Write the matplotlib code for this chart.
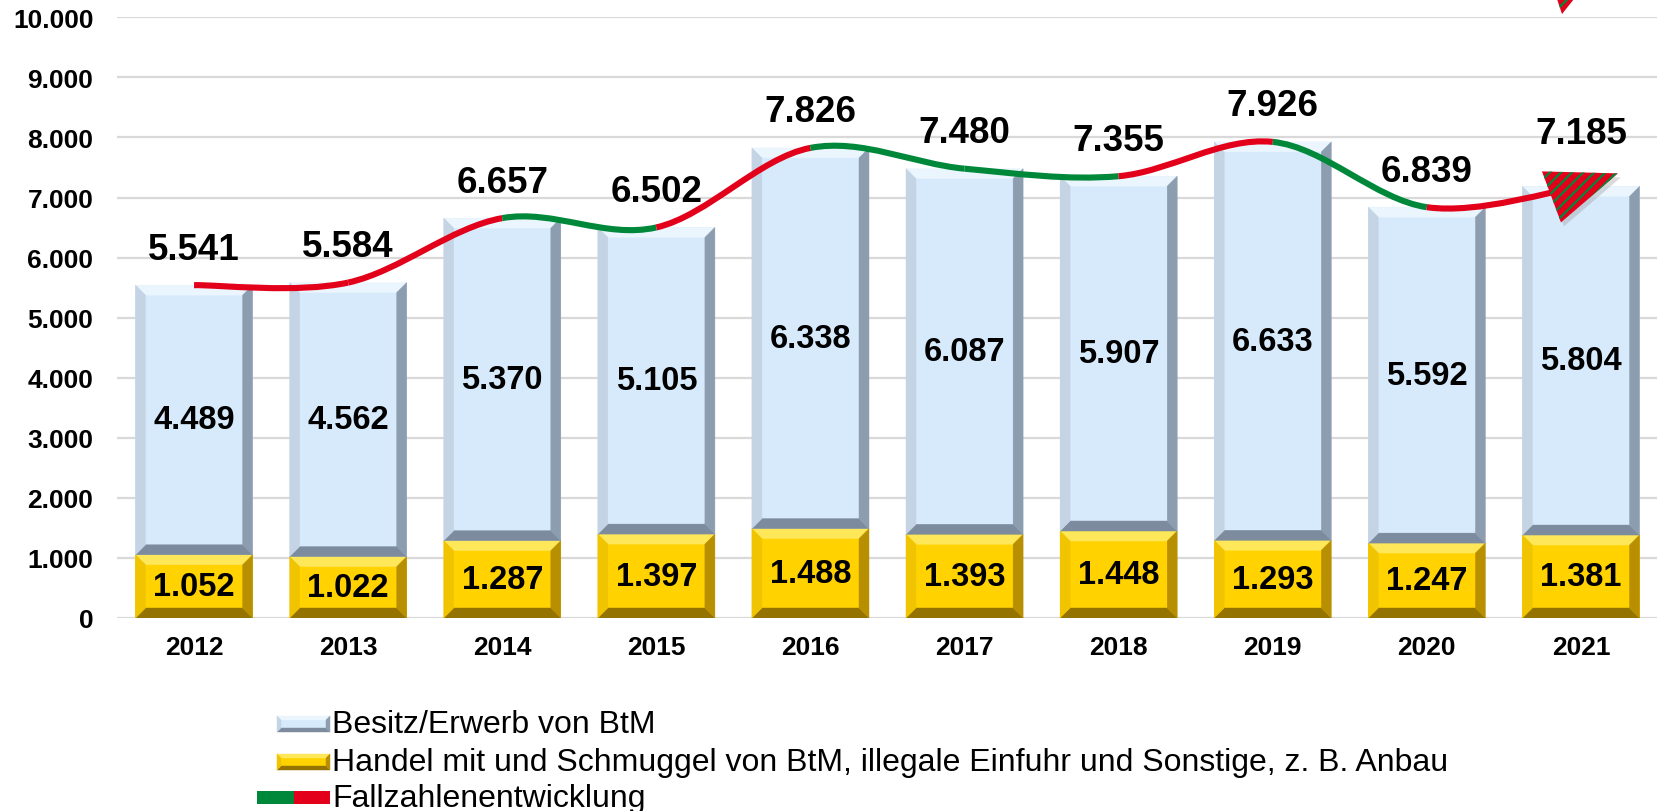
import matplotlib.pyplot as plt
from matplotlib.patches import Polygon, Rectangle, PathPatch
from matplotlib.path import Path
from matplotlib.ticker import FuncFormatter, MultipleLocator
from matplotlib.transforms import Affine2D, ScaledTranslation

plt.rcParams['font.family'] = ['Liberation Sans', 'DejaVu Sans']
plt.rcParams['hatch.linewidth'] = 1.6

years = ['2012', '2013', '2014', '2015', '2016', '2017', '2018', '2019', '2020', '2021']
besitz = [4489, 4562, 5370, 5105, 6338, 6087, 5907, 6633, 5592, 5804]
handel = [1052, 1022, 1287, 1397, 1488, 1393, 1448, 1293, 1247, 1381]
totals = [5541, 5584, 6657, 6502, 7826, 7480, 7355, 7926, 6839, 7185]
names = ['Besitz/Erwerb von BtM',
         'Handel mit und Schmuggel von BtM, illegale Einfuhr und Sonstige, z. B. Anbau',
         'Fallzahlenentwicklung']

blue = dict(face='#d6eafb', top='#eaf5fe', left='#c4d4e4', right='#8d9db0', bottom='#7c8c9e')
gold = dict(face='#ffd200', top='#ffe75a', left='#f0c400', right='#b88f00', bottom='#957300')
red = '#e3001b'
green = '#00883a'


def fmt(v):
    return f'{int(round(v)):,}'.replace(',', '.')


def bevel(add, x0, y0, x1, y1, bx, by, cols, transform, z=2):
    # flat face plus four bevel trapezoids
    add(Polygon([(x0, y0), (x1, y0), (x1, y1), (x0, y1)], closed=True,
                facecolor=cols['face'], edgecolor='none', transform=transform, zorder=z))
    sides = {
        'top': [(x0, y1), (x1, y1), (x1 - bx, y1 - by), (x0 + bx, y1 - by)],
        'bottom': [(x0, y0), (x1, y0), (x1 - bx, y0 + by), (x0 + bx, y0 + by)],
        'left': [(x0, y0), (x0, y1), (x0 + bx, y1 - by), (x0 + bx, y0 + by)],
        'right': [(x1, y0), (x1, y1), (x1 - bx, y1 - by), (x1 - bx, y0 + by)],
    }
    for k, pts in sides.items():
        add(Polygon(pts, closed=True, facecolor=cols[k], edgecolor=cols[k], lw=0.3,
                    transform=transform, zorder=z + 0.1))


W, H = 1658, 812
fig = plt.figure(figsize=(W / 100, H / 100), dpi=100)
ax = fig.add_axes([117 / W, 193 / H, 1 - 117 / W, 600.7 / H])
ax.set_xlim(-0.5, 9.5)
ax.set_ylim(0, 10000)

x = list(range(len(years)))
bw = 0.76
bars_h = ax.bar(x, handel, bw, color='none', zorder=2)
bars_b = ax.bar(x, besitz, bw, bottom=handel, color='none', zorder=2)

p0 = ax.transData.transform((0, 0))
p1 = ax.transData.transform((1, 10000))
ppx = p1[0] - p0[0]
ppy = (p1[1] - p0[1]) / 10000
bpx = 10
for cont, cols in ((bars_h, gold), (bars_b, blue)):
    for r in cont.patches:
        xa, ya = r.get_x(), r.get_y()
        bevel(ax.add_patch, xa, ya, xa + r.get_width(), ya + r.get_height(),
              bpx / ppx, bpx / ppy, cols, ax.transData)

# grid and axes styling
ax.yaxis.set_major_locator(MultipleLocator(1000))
ax.yaxis.set_major_formatter(FuncFormatter(lambda v, p: fmt(v)))
ax.grid(axis='y', color='#d9d9d9', lw=1.6, zorder=0)
ax.set_axisbelow(True)
for s in ax.spines.values():
    s.set_visible(False)
ax.set_xticks(x)
ax.set_xticklabels(years)
ax.tick_params(axis='both', length=0)
ax.tick_params(axis='y', labelsize=19, pad=17)
ax.tick_params(axis='x', labelsize=19, pad=12)
for lab in ax.get_xticklabels() + ax.get_yticklabels():
    lab.set_fontweight('bold')

# smoothed trend line, red when rising, green when falling
pts = list(zip(x, totals))
n = len(pts)
for i in range(n - 1):
    a = pts[max(i - 1, 0)]
    b = pts[i]
    c = pts[i + 1]
    d = pts[min(i + 2, n - 1)]
    c1 = (b[0] + (c[0] - a[0]) / 6, b[1] + (c[1] - a[1]) / 6)
    c2 = (c[0] - (d[0] - b[0]) / 6, c[1] - (d[1] - b[1]) / 6)
    path = Path([b, c1, c2, c], [Path.MOVETO, Path.CURVE4, Path.CURVE4, Path.CURVE4])
    col = red if c[1] > b[1] else green
    ax.add_patch(PathPatch(path, fill=False, edgecolor=col, lw=4.4, capstyle='butt', zorder=4))

# arrow head at the end of the line
tip = Affine2D() + ScaledTranslation(x[-1], totals[-1], ax.transData)
tri = [(-39, 15), (37, 13), (-20, -36)]
ax.add_patch(Polygon([(u + 3, v - 4) for u, v in tri], closed=True, facecolor='#999999',
                     edgecolor='none', alpha=0.35, transform=tip, zorder=4.5, clip_on=False))
ax.add_patch(Polygon(tri, closed=True, facecolor=red, edgecolor=green, lw=0, hatch='///',
                     transform=tip, zorder=5, clip_on=False))

# labels
for i in x:
    ax.text(i, handel[i] / 2, fmt(handel[i]), ha='center', va='center',
            fontsize=23.5, fontweight='bold', zorder=6)
    ax.text(i, handel[i] + besitz[i] / 2, fmt(besitz[i]), ha='center', va='center',
            fontsize=23.5, fontweight='bold', zorder=6)
    off = 38 if i == x[-1] else 26
    ax.annotate(fmt(totals[i]), (i, totals[i]), xytext=(0, off), textcoords='offset points',
                ha='center', va='center', fontsize=26.5, fontweight='bold', zorder=6,
                annotation_clip=False)

# cut-off decoration at the top right
top_tri = [(1557 / W, 1.0), (1574 / W, 1.0), (1562 / W, 1 - 15 / H)]
fig.add_artist(Polygon(top_tri, closed=True, facecolor=red, edgecolor=green, lw=0,
                       hatch='///', transform=fig.transFigure))

# legend drawn by hand
fx = lambda px: px / W
fy = lambda py: 1 - py / H
for yc, cols in ((725, blue), (763, gold)):
    bevel(fig.add_artist, fx(277), fy(yc + 8), fx(330), fy(yc - 8), 4 / W, 4 / H, cols,
          fig.transFigure)
for row, yc in enumerate([725, 763, 799]):
    fig.text(fx(332), fy(yc), names[row], ha='left', va='center', fontsize=23)
fig.add_artist(Rectangle((fx(257), fy(805)), fx(37), 13 / H, facecolor=green,
                         edgecolor='none', transform=fig.transFigure))
fig.add_artist(Rectangle((fx(294), fy(805)), fx(36), 13 / H, facecolor=red,
                         edgecolor='none', transform=fig.transFigure))

fig.savefig('out.png', dpi=100)
